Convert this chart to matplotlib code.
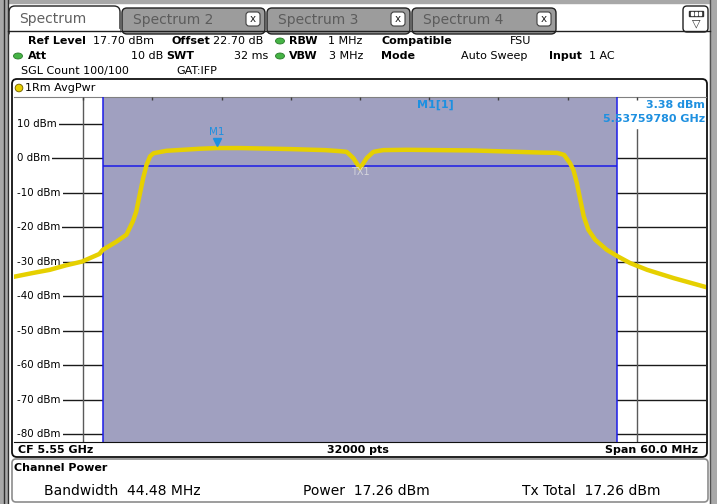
import matplotlib.pyplot as plt
from matplotlib.patches import FancyBboxPatch, Rectangle, Ellipse, Circle

# trace (offset from CF in MHz, level in dBm)
freq_mhz = [-30.0, -28.35, -26.9, -25.5, -24.1, -22.6, -22.3, -21.1, -20.25,
            -19.7, -19.4, -19.1, -18.8, -18.5, -18.2, -17.9, -16.8, -13.9,
            -12.4, -10.4, -6.0, -3.0, -1.74, -1.16, -0.58, 0.0, 0.58, 1.16,
            2.0, 4.05, 9.84, 15.6, 17.1, 17.7, 18.2, 18.5, 18.8, 19.1, 19.4,
            19.8, 20.4, 21.4, 22.35, 23.4, 24.9, 27.2, 30.0]
level_dbm = [-34.4, -33.3, -32.4, -31.1, -30.0, -27.8, -26.6, -24.2, -22.2,
             -18.4, -15.5, -10.6, -5.8, -1.9, 0.5, 1.4, 2.1, 2.7,
             2.9, 2.9, 2.6, 2.3, 2.0, 1.8, 0.0, -3.0, 0.0, 1.8,
             2.3, 2.4, 2.2, 1.6, 1.5, 0.9, -1.45, -3.4, -7.2, -12.1, -16.9,
             -20.8, -23.7, -26.6, -28.5, -30.4, -32.4, -34.8, -37.4]

ref_level = 17.7
y_ticks = [10, 0, -10, -20, -30, -40, -50, -60, -70, -80]
chan_bw = 44.48
disp_line = -2.2
m1_freq = -12.4
m1_text = ["M1[1]", "3.38 dBm", "5.53759780 GHz"]

tabs = ["Spectrum 2", "Spectrum 3", "Spectrum 4"]
hdr = [  # x, y, text, bold
    (28, 41, "Ref Level", True), (93, 41, "17.70 dBm", False),
    (172, 41, "Offset", True), (213, 41, "22.70 dB", False),
    (289, 41, "RBW", True), (328, 41, "1 MHz", False),
    (381, 41, "Compatible", True), (510, 41, "FSU", False),
    (28, 56, "Att", True), (131, 56, "10 dB", False),
    (166, 56, "SWT", True), (234, 56, "32 ms", False),
    (289, 56, "VBW", True), (329, 56, "3 MHz", False),
    (381, 56, "Mode", True), (461, 56, "Auto Sweep", False),
    (549, 56, "Input", True), (589, 56, "1 AC", False),
    (21, 71, "SGL Count 100/100", False), (176, 71, "GAT:IFP", False),
]
power = [(44, "Bandwidth  44.48 MHz"), (303, "Power  17.26 dBm"),
         (522, "Tx Total  17.26 dBm")]

shade = '#a0a0c0'
blue = '#1c1ce8'
yellow = '#e6d000'
mk = '#1e90e0'

fig = plt.figure(figsize=(7.17, 5.04), dpi=100)
fig.patch.set_facecolor('white')

# screen chrome, drawn in pixel coords
bg = fig.add_axes([0, 0, 1, 1])
bg.set_xlim(0, 717)
bg.set_ylim(504, 0)
bg.axis('off')

bg.add_patch(Rectangle((0, 0), 717, 3, color='#a8a8a8'))
bg.add_patch(Rectangle((0, 0), 7, 504, color='#a8a8a8'))
bg.plot([4, 4], [0, 504], color='#303030', lw=1)
bg.plot([8, 8], [0, 504], color='#303030', lw=1)
bg.add_patch(Rectangle((710, 0), 7, 504, color='#a8a8a8'))
bg.plot([710, 710], [0, 504], color='#505050', lw=1)

# tabs
bg.plot([8, 710], [31, 31], color='#202020', lw=1)
tab_x = [(122, 265), (267, 410), (412, 556)]
for (x0, x1), name in zip(tab_x, tabs):
    bg.add_patch(FancyBboxPatch((x0, 8), x1 - x0, 26, boxstyle="round,pad=0,rounding_size=5",
                                fc='#9c9c9c', ec='#202020', lw=1))
    bg.text(x0 + 11, 20, name, fontsize=10, color='#5c5c5c', va='center')
    bg.add_patch(FancyBboxPatch((x1 - 19, 12), 14, 14, boxstyle="round,pad=0,rounding_size=3",
                                fc='white', ec='#404040', lw=0.8))
    bg.text(x1 - 12, 19, "x", fontsize=7.5, ha='center', va='center', color='#202020')
bg.add_patch(FancyBboxPatch((9, 6), 111, 30, boxstyle="round,pad=0,rounding_size=6",
                            fc='white', ec='#202020', lw=1))
bg.add_patch(Rectangle((10, 29), 109, 8, color='white'))
bg.text(19, 19, "Spectrum", fontsize=10, color='#606060', va='center')

# icon top right
bg.add_patch(FancyBboxPatch((683, 6), 25, 26, boxstyle="round,pad=0,rounding_size=4",
                            fc='white', ec='#202020', lw=1))
bg.add_patch(Rectangle((689, 11), 14, 5, color='#303030'))
for xx in (691, 695, 699):
    bg.add_patch(Rectangle((xx, 12.3), 2.4, 2.4, color='white'))
bg.text(696, 23, "\u25bd", fontsize=8, ha='center', va='center', color='#303030')

# header
for x, y, s, b in hdr:
    bg.text(x, y, s, fontsize=8, fontweight='bold' if b else 'normal', va='center')
for x, y in [(18, 56), (280, 41), (280, 56)]:
    bg.add_patch(Ellipse((x, y), 9, 6, fc='#46b446', ec='#2a7a2a', lw=0.6))

# diagram box
bg.add_patch(FancyBboxPatch((12, 79), 695, 378, boxstyle="round,pad=0,rounding_size=5",
                            fc='white', ec='#101010', lw=1.3))
bg.add_patch(Circle((19, 88), 3.8, fc='#e8d000', ec='#806c00', lw=0.7))
bg.text(25, 88, "1Rm AvgPwr", fontsize=8, va='center')
bg.text(18, 450, "CF 5.55 GHz", fontsize=8, fontweight='bold', va='center')
bg.text(358, 450, "32000 pts", fontsize=8, fontweight='bold', va='center', ha='center')
bg.text(698, 450, "Span 60.0 MHz", fontsize=8, fontweight='bold', va='center', ha='right')

# channel power box
bg.add_patch(FancyBboxPatch((12, 459), 696, 43, boxstyle="round,pad=0,rounding_size=4",
                            fc='white', ec='#8c8c8c', lw=1.2))
bg.text(14, 468, "Channel Power", fontsize=8, fontweight='bold', va='center')
for x, s in power:
    bg.text(x, 491, s, fontsize=10, va='center')

# diagram
ax = fig.add_axes([14 / 717, 62 / 504, 692 / 717, 345 / 504])
ax.set_xlim(-30, 30)
ax.set_ylim(ref_level - 100, ref_level)
ax.set_xticks([])
ax.set_yticks([])
ax.set_facecolor('white')
for s in ('left', 'right'):
    ax.spines[s].set_visible(False)
ax.spines['top'].set_color('#808080')
ax.spines['bottom'].set_color('#101010')

grid_x = [-24, -18, -12, -6, 0, 6, 12, 18, 24]
ax.hlines(y_ticks, -29.6, 30, color='#1a1a1a', lw=1, zorder=1)
for x in grid_x:
    ax.axvline(x, color='#5a5a5a', lw=1, zorder=1)
    ax.vlines(x, ref_level - 0.8, ref_level, color='#404040', lw=1, zorder=4)

half = chan_bw / 2
ax.axvspan(-half, half, color=shade, zorder=2, lw=0)
ax.add_patch(Rectangle((half, 8.8), 30 - half, 9, color='white', zorder=2.5))
ax.axvline(-half, color=blue, lw=1.1, zorder=3)
ax.axvline(half, color=blue, lw=1.1, zorder=3)
ax.hlines(disp_line, -half, half, color=blue, lw=1.1, zorder=3)

for y in y_ticks:
    ax.text(-29.7, y, f"{y} dBm", fontsize=7.4, va='center', ha='left', zorder=4,
            bbox=dict(fc='white', ec='none', pad=1.2))

ax.plot(freq_mhz, level_dbm, color=yellow, lw=3.2, zorder=5, solid_joinstyle='round')

ax.plot(m1_freq, 4.7, marker='v', color=mk, ms=5.5, zorder=6)
ax.text(m1_freq, 6.0, "M1", color=mk, fontsize=7.5, ha='center', va='bottom', zorder=6)
ax.text(0, -4.0, "TX1", color='#d4d4dc', fontsize=7, ha='center', va='center', zorder=6)

ax.text(6.5, 15.4, m1_text[0], color=mk, fontsize=8, fontweight='bold', ha='center', va='center', zorder=6)
ax.text(29.9, 15.4, m1_text[1], color=mk, fontsize=8, fontweight='bold', ha='right', va='center', zorder=6)
ax.text(29.9, 11.4, m1_text[2], color=mk, fontsize=8, fontweight='bold', ha='right', va='center', zorder=6)

fig.savefig("out.png", dpi=100)
